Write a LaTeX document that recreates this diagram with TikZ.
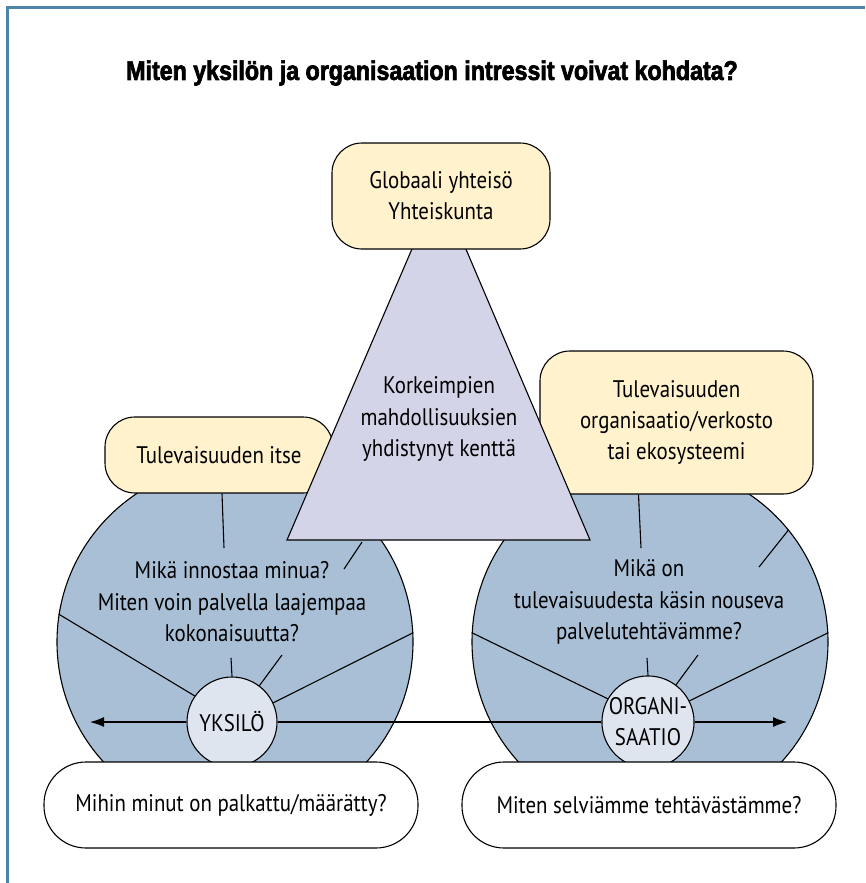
\documentclass[tikz,border=0pt]{standalone}
\usepackage{fontspec}
\setmainfont{PT Sans}[FakeStretch=0.87]
\newfontfamily\titlefont{Liberation Sans Bold}[FakeStretch=0.86,FakeBold=2.5]
\usetikzlibrary{arrows.meta}
\definecolor{circblue}{HTML}{A8BFD6}
\definecolor{hubfill}{HTML}{DFE5EF}
\definecolor{boxyellow}{HTML}{FFF2CC}
\definecolor{trifill}{HTML}{D4D4E8}
\definecolor{framecol}{HTML}{4E84A8}
\begin{document}
\begin{tikzpicture}[x=1pt,y=-1pt,
  outline/.style={draw=black, line width=1.1pt},
  bigcircle/.style={outline, circle, fill=circblue, minimum size=356pt, inner sep=0pt},
  hub/.style={outline, circle, fill=hubfill, minimum size=90pt, inner sep=0pt,
    align=center, font=\fontsize{24}{31}\selectfont},
  ybox/.style={outline, fill=boxyellow, rounded corners=30pt, inner sep=0pt,
    align=center, font=\fontsize{24}{31}\selectfont},
  qbox/.style={outline, fill=white, rounded corners=42pt, inner sep=0pt,
    minimum width=374pt, minimum height=86pt, font=\fontsize{24}{31}\selectfont},
  ray/.style={draw=black, line width=1.1pt},
  arr/.style={ray, -{Latex[length=14pt,width=10pt]}},
  label/.style={align=center, font=\fontsize{24}{31.5}\selectfont},
  frameline/.style={draw=framecol, line width=3pt},
]
\useasboundingbox (0,0) rectangle (865,883);

% frame on the left and top
\draw[frameline] (7,883) -- (7,8) -- (865,8);

% the two large circles
\node[bigcircle] (bigL) at (235,642) {};
\node[bigcircle] (bigR) at (650,642) {};

% hubs
\node[hub] (ys) at (232,722) {YKSILÖ};
\node[hub] (org) at (648,722) {ORGANI-\\SAATIO};

% free ends of the short rays
\coordinate (yup) at (231,658);
\coordinate (yupr) at (282,655);
\coordinate (oup) at (647,658);
\coordinate (oupr) at (698,655);
\coordinate (ofree) at (759,567);
\coordinate (ltip) at (90,722);
\coordinate (rtip) at (787,722);

% rays of the individual
\draw[ray] (ys.145) -- (bigL.171);
\draw[ray] (ys.25) -- (bigL.3);
\draw[ray] (ys.90) -- (yup);
\draw[ray] (ys.53) -- (yupr);
% rays of the organisation
\draw[ray] (org.150) -- (bigR.177);
\draw[ray] (org.27) -- (bigR.3);
\draw[ray] (org.90) -- (oup);
\draw[ray] (org.53) -- (oupr);
\draw[ray] (bigR.39) -- (ofree);

% horizontal axis with arrows
\draw[arr] (ys.west) -- (ltip);
\draw[ray] (ys.east) -- (org.west);
\draw[arr] (org.east) -- (rtip);

% texts inside the circles
\node[label] (qL) at (232,602) {Mikä innostaa minua?\\Miten voin palvella laajempaa\\kokonaisuutta?};
\node[label] (qR) at (649,602) {Mikä on\\tulevaisuudesta käsin nouseva\\palvelutehtävämme?};

% side boxes
\node[ybox, minimum width=228pt, minimum height=76pt] (lbox) at (219,455) {Tulevaisuuden itse};
\node[ybox, minimum width=273pt, minimum height=143pt] (rbox) at (676.5,422.5)
  {Tulevaisuuden\\organisaatio/verkosto\\tai ekosysteemi};
\coordinate (lfree) at (224,548);
\coordinate (rfree) at (641,548);
\draw[ray] ([xshift=3pt]lbox.south) -- (lfree);
\draw[ray] ([xshift=-38pt]rbox.south) -- (rfree);

% triangle of the common field
\coordinate (apex) at (439,186);
\coordinate (tl) at (287,540);
\coordinate (tr) at (590,540);
\draw[outline, fill=trifill, line join=miter] (apex) -- (tl) -- (tr) -- cycle;
\node[label] (field) at (439,419) {Korkeimpien\\mahdollisuuksien\\yhdistynyt kenttä};
\coordinate (tbase) at (362,542);
\coordinate (tfree) at (344,569);
\draw[ray] (tbase) -- (tfree);

% top box
\node[ybox, minimum width=218pt, minimum height=106pt] (glob) at (441,196)
  {Globaali yhteisö\\Yhteiskunta};

% question boxes at the bottom
\node[qbox] (qa) at (231,805) {Mihin minut on palkattu/määrätty?};
\node[qbox] (qb) at (649,805) {Miten selviämme tehtävästämme?};

% title
\node[font=\titlefont\fontsize{27}{30}\selectfont] (title) at (432,73)
  {Miten yksilön ja organisaation intressit voivat kohdata?};
\end{tikzpicture}
\end{document}
